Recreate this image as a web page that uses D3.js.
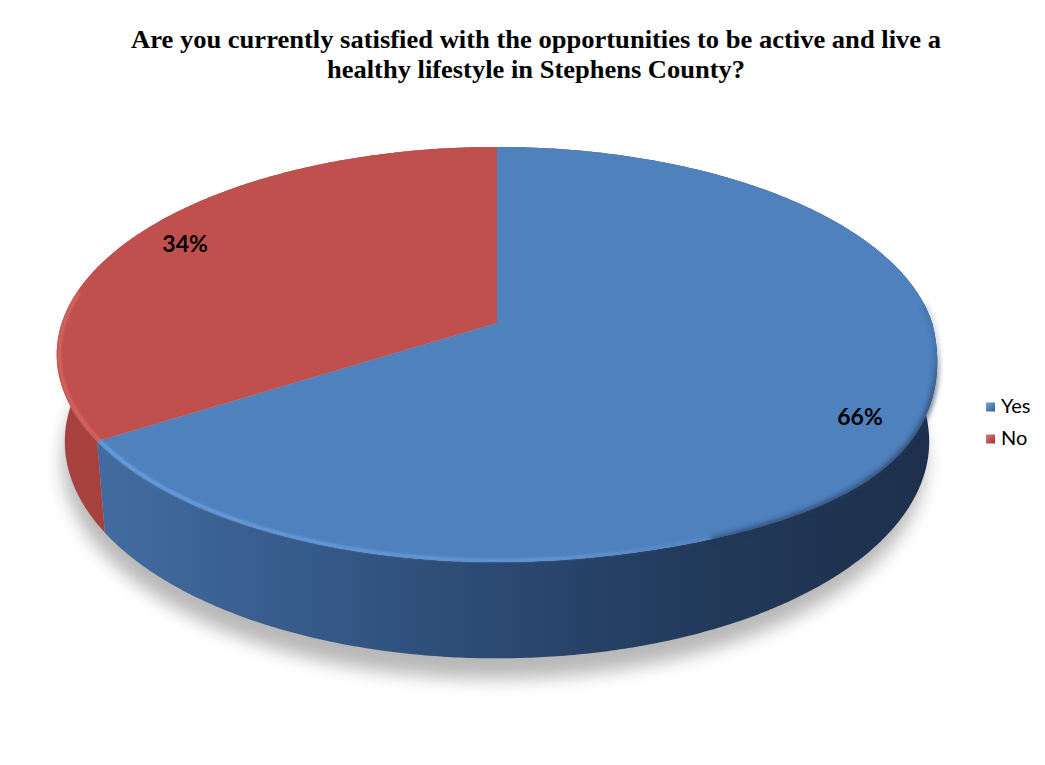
<!DOCTYPE html>
<html>
<head>
<meta charset="utf-8">
<script src="https://cdnjs.cloudflare.com/ajax/libs/d3/7.8.5/d3.min.js"></script>
<style>
  html, body { margin: 0; padding: 0; background: #fff; }
  svg { display: block; }
</style>
</head>
<body>
<svg id="chart" width="1045" height="765"></svg>
<script>
// Survey answers and their shares (percent)
const categories = ["Yes", "No"];
const values = [66, 34];
const labels = ["66%", "34%"];
const titleLines = [
  "Are you currently satisfied with the opportunities to be active and live a",
  "healthy lifestyle in Stephens County?"
];

const topColors = ["#4F81BD", "#C0504D"];

const svg = d3.select("#chart");

// Perspective camera for a tilted 3D disc (unit radius)
const cam = { cx: 497, cy: 323, F: 2537, D: 5.83, tilt: Math.asin(0.466), depth: 0.228, bulge: 48 };
const cs = Math.cos(cam.tilt), sn = Math.sin(cam.tilt);

// phi: angle clockwise from 12 o'clock; r: radius fraction; yh: height (0 = top face)
function project(phi, r, yh) {
  const u = r * Math.sin(phi);
  const v = -r * Math.cos(phi);
  const Y = yh * cs - v * sn;
  const Z = v * cs + yh * sn;
  const k = cam.F / (cam.D - Z);
  let y = cam.cy - Y * k;
  // rounded top edge swells the front-right rim slightly
  if (yh === 0 && r >= 0.99 && u > 0 && v > 0) y += cam.bulge * u * u * u * v;
  return [cam.cx + u * k, y];
}

function arcPoints(a0, a1, r, yh) {
  const n = Math.max(2, Math.ceil(Math.abs(a1 - a0) / (Math.PI / 360)));
  return d3.range(n + 1).map(i => project(a0 + (a1 - a0) * i / n, r, yh));
}

const line = d3.line().curve(d3.curveLinear);
const closed = d3.line().curve(d3.curveLinearClosed);

const pie = d3.pie().sort(null).value(d => d.value).startAngle(0).endAngle(2 * Math.PI);
const arcs = pie(categories.map((c, i) => ({ cat: c, value: values[i], i })));

const defs = svg.append("defs");

defs.append("filter").attr("id", "shadowBlur")
  .attr("x", "-20%").attr("y", "-20%").attr("width", "140%").attr("height", "140%")
  .append("feGaussianBlur").attr("stdDeviation", 9);

defs.append("filter").attr("id", "rimBlur")
  .attr("x", "-10%").attr("y", "-10%").attr("width", "120%").attr("height", "120%")
  .append("feGaussianBlur").attr("stdDeviation", 1.3);

defs.append("filter").attr("id", "edgeBlur")
  .attr("x", "-10%").attr("y", "-10%").attr("width", "120%").attr("height", "120%")
  .append("feGaussianBlur").attr("stdDeviation", 2.5);

// Side-wall shading, lit from the left
const sideGrad = [
  [["0", "#4570A6"], ["0.12", "#3F679B"], ["0.45", "#2D4D77"], ["0.7", "#233B5D"], ["1", "#1D2F4A"]],
  [["0", "#A9423F"], ["0.15", "#A23F3C"], ["0.5", "#8E3532"], ["1", "#7A2C2A"]]
];
sideGrad.forEach((stops, i) => {
  const g = defs.append("linearGradient").attr("id", "side" + i)
    .attr("gradientUnits", "userSpaceOnUse")
    .attr("x1", cam.cx - 445).attr("x2", cam.cx + 445).attr("y1", 0).attr("y2", 0);
  stops.forEach(s => g.append("stop").attr("offset", s[0]).attr("stop-color", s[1]));
});

// Highlight along the rim fades out toward the shaded right side
const hl = defs.append("linearGradient").attr("id", "rimLight")
  .attr("gradientUnits", "userSpaceOnUse")
  .attr("x1", 60).attr("x2", 760).attr("y1", 0).attr("y2", 0);
hl.append("stop").attr("offset", 0).attr("stop-color", "#6FA6E8").attr("stop-opacity", 0.9);
hl.append("stop").attr("offset", 0.7).attr("stop-color", "#6FA6E8").attr("stop-opacity", 0.6);
hl.append("stop").attr("offset", 1).attr("stop-color", "#6FA6E8").attr("stop-opacity", 0);

// Dark bevel fades in from the right extreme toward the front
const dk = defs.append("linearGradient").attr("id", "rimDark")
  .attr("gradientUnits", "userSpaceOnUse")
  .attr("x1", 0).attr("x2", 0).attr("y1", 340).attr("y2", 400);
dk.append("stop").attr("offset", 0).attr("stop-color", "#203656").attr("stop-opacity", 0.25);
dk.append("stop").attr("offset", 1).attr("stop-color", "#203656").attr("stop-opacity", 0.85);

// Legend key gradients
[["#78A5DC", "#2C5A94"], ["#DE7B78", "#98322F"]].forEach((c, i) => {
  const g = defs.append("linearGradient").attr("id", "key" + i)
    .attr("x1", 0).attr("y1", 0).attr("x2", 1).attr("y2", 1);
  g.append("stop").attr("offset", 0).attr("stop-color", c[0]);
  g.append("stop").attr("offset", 1).attr("stop-color", c[1]);
});

const plot = svg.append("g");

// Shadow under the disc
plot.append("path")
  .attr("d", closed(arcPoints(0, 2 * Math.PI, 1.0, -cam.depth - 0.03).map(p => [p[0] - 3, p[1] + 8])))
  .attr("fill", "#000").attr("opacity", 0.28)
  .attr("filter", "url(#shadowBlur)");

// Outer side walls
arcs.forEach(a => {
  const topRim = arcPoints(a.startAngle, a.endAngle, 1, 0);
  const botRim = arcPoints(a.endAngle, a.startAngle, 1, -cam.depth);
  plot.append("path")
    .attr("d", closed(topRim.concat(botRim)))
    .attr("fill", "url(#side" + a.data.i + ")");
});

// Top faces
arcs.forEach(a => {
  const pts = [project(0, 0, 0)].concat(arcPoints(a.startAngle, a.endAngle, 1, 0));
  plot.append("path")
    .attr("d", closed(pts))
    .attr("fill", topColors[a.data.i]);
});

// Soft dark bevel on the right-hand rim
plot.append("path")
  .attr("d", line(arcPoints(Math.PI * 0.47, Math.PI * 0.86, 1, 0)))
  .attr("fill", "none")
  .attr("stroke", "url(#rimDark)")
  .attr("stroke-width", 4)
  .attr("filter", "url(#edgeBlur)");

// Bevel highlight along the front-left rim
const blue = arcs[0], red = arcs[1];
plot.append("path")
  .attr("d", line(arcPoints(Math.PI * 0.8, blue.endAngle, 0.994, 0)))
  .attr("fill", "none")
  .attr("stroke", "url(#rimLight)")
  .attr("stroke-width", 3)
  .attr("filter", "url(#rimBlur)");
plot.append("path")
  .attr("d", line(arcPoints(red.startAngle, Math.PI * 1.55, 0.994, 0)))
  .attr("fill", "none")
  .attr("stroke", "#DD6B67")
  .attr("stroke-width", 3)
  .attr("opacity", 0.8)
  .attr("filter", "url(#rimBlur)");

// Percentage labels
const labelR = [0.89, 0.87];
arcs.forEach(a => {
  const mid = (a.startAngle + a.endAngle) / 2;
  const p = project(mid, labelR[a.data.i], 0);
  plot.append("text")
    .attr("x", p[0]).attr("y", p[1])
    .attr("text-anchor", "middle")
    .attr("dominant-baseline", "central")
    .attr("font-family", "Lato, 'Open Sans', sans-serif")
    .attr("font-weight", "bold")
    .attr("font-size", 23)
    .attr("fill", "#000")
    .text(labels[a.data.i]);
});

// Title
const title = svg.append("g");
const titleWidths = [810, 418];
titleLines.forEach((t, i) => {
  title.append("text")
    .attr("x", 536).attr("y", 48 + i * 30)
    .attr("text-anchor", "middle")
    .attr("font-family", "'Liberation Serif', 'DejaVu Serif', serif")
    .attr("font-weight", "bold")
    .attr("font-size", 25)
    .attr("textLength", titleWidths[i])
    .attr("lengthAdjust", "spacingAndGlyphs")
    .attr("fill", "#000")
    .text(t);
});

// Legend
const legend = svg.append("g").attr("transform", "translate(986,0)");
const legendY = d3.scalePoint().domain(categories).range([407, 439]);
categories.forEach((c, i) => {
  const y = legendY(c);
  legend.append("rect")
    .attr("x", 0).attr("y", y - 4.5).attr("width", 9).attr("height", 9)
    .attr("fill", "url(#key" + i + ")");
  legend.append("text")
    .attr("x", 15).attr("y", y + 6)
    .attr("font-family", "Lato, 'Open Sans', sans-serif")
    .attr("font-size", 20)
    .attr("fill", "#000")
    .text(c);
});
</script>
</body>
</html>
